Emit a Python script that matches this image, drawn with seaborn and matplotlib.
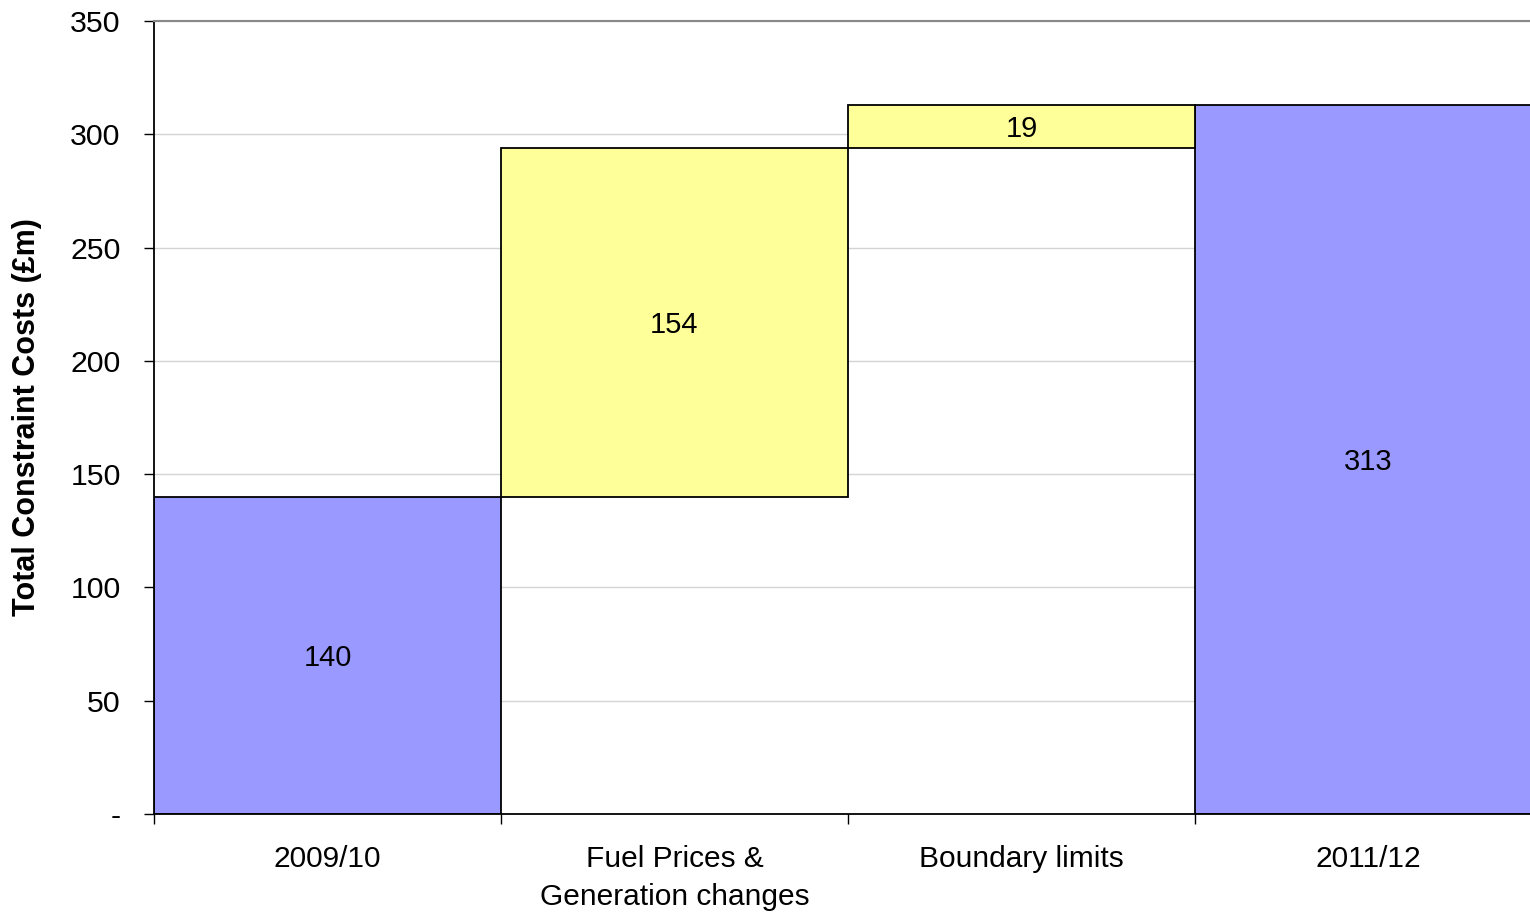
import matplotlib
matplotlib.use("Agg")
import matplotlib.pyplot as plt
import seaborn as sns
import pandas as pd
from matplotlib.ticker import FixedLocator

# Waterfall of constraint costs between the two years
categories = ["2009/10", "Fuel Prices &\nGeneration changes", "Boundary limits", "2011/12"]
total_cats = ["2009/10", "2011/12"]
total_vals = [140, 313]
step_cats = ["Fuel Prices &\nGeneration changes", "Boundary limits"]
step_vals = [154, 19]
step_bottoms = [140, 294]
y_ticks = [0, 50, 100, 150, 200, 250, 300, 350]
y_ticklabels = ["-", "50", "100", "150", "200", "250", "300", "350"]

plt.rcParams["font.family"] = ["Liberation Sans", "DejaVu Sans"]

fig = plt.figure(figsize=(15.30, 9.13), dpi=100)
ax = fig.add_axes([154 / 1530, 99 / 913, 1388 / 1530, 793 / 913])

totals = pd.DataFrame({"cat": total_cats, "val": total_vals})
steps = pd.DataFrame({"cat": step_cats, "val": step_vals})

bar_kw = dict(order=categories, width=1.0, saturation=1, errorbar=None,
              edgecolor="black", linewidth=1.3, ax=ax, zorder=2)
sns.barplot(data=totals, x="cat", y="val", color="#9999FF", **bar_kw)
sns.barplot(data=steps, x="cat", y="val", color="#FFFF99", bottom=step_bottoms, **bar_kw)

for cont in ax.containers:
    for t in ax.bar_label(cont, label_type="center", fmt="%d", fontsize=21):
        t.set_va("center_baseline")

ax.set_xlim(-0.5, 3.5)
ax.set_ylim(0, 350)
ax.set_yticks(y_ticks)
ax.set_yticklabels(y_ticklabels, fontsize=21.8)
ax.tick_params(axis="y", length=7, width=1, pad=17, color="black")
ax.tick_params(axis="x", which="major", length=0, pad=22.5, labelsize=21.5)
for lbl in ax.get_xticklabels():
    lbl.set_linespacing(1.45)
ax.xaxis.set_minor_locator(FixedLocator([-0.5, 0.5, 1.5, 2.5]))
ax.tick_params(axis="x", which="minor", length=7, width=1, color="black")

ax.set_xlabel("")
ax.set_ylabel("Total Constraint Costs (£m)", fontsize=22, fontweight="bold", labelpad=20)

ax.grid(axis="y", color="#d4d4d4", linewidth=1, zorder=0)
ax.set_axisbelow(True)
ax.spines["right"].set_visible(False)
ax.spines["top"].set_color("#888888")
ax.spines["top"].set_linewidth(1.5)
ax.spines["left"].set_linewidth(1.3)
ax.spines["bottom"].set_linewidth(1.3)

fig.savefig("out.png", dpi=100)
